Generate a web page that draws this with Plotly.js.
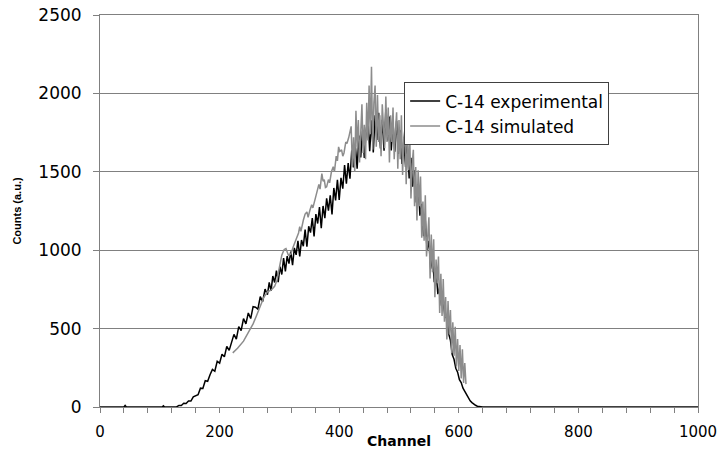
<!DOCTYPE html>
<html>
<head>
<meta charset="utf-8">
<script src="https://cdn.plot.ly/plotly-3.0.1.min.js"></script>
<style>html,body{margin:0;padding:0;background:#fff}#chart{width:722px;height:449px}</style>
</head>
<body>
<div id="chart"></div>
<script>
// Experimental spectrum (channel, counts)
const expChannel = [0,40,42,44,104,106,108,118,
120,124,128,132,136,140,144,148,152,156,160,164,168,172,176,180,184,188,192,196,
200,204,208,212,216,220,224,228,232,236,240,244,248,252,256,260,264,268,272,276,280,
283,286,289,292,295,298,301,304,307,310,313,316,319,322,325,328,331,334,337,340,
343,346,349,352,355,358,361,364,367,370,373,376,379,382,385,388,391,394,397,400,
403,406,409,412,415,418,421,424,427,430,433,436,439,442,445,448,451,454,457,460,
463,466,469,472,475,478,481,484,487,490,493,496,499,502,505,508,511,514,517,520,
523,526,529,532,535,538,541,544,547,550,553,556,559,562,565,568,571,574,577,580,
583,586,589,592,595,598,601,604,607,610,613,616,619,622,625,628,631,634,637,640,1000];
const expCounts = [0,0,10,0,0,8,0,0,
0,2,0,10,10,24,22,38,38,65,74,78,120,118,168,164,206,240,228,292,
280,336,320,387,361,415,463,433,512,488,564,530,600,564,640,636,624,704,672,752,716,
795,740,835,794,870,796,895,845,950,865,962,914,991,905,1015,970,1060,960,1065,1025,
1131,1022,1153,1112,1205,1088,1230,1170,1275,1140,1282,1204,1331,1252,1350,1228,1397,1318,1449,1320,
1461,1392,1543,1424,1555,1456,1637,1528,1669,1520,1731,1592,1763,1588,1760,1842,1632,1828,1624,1860,
1703,1876,1649,1832,1635,1898,1698,1852,1636,1810,1628,1826,1614,1764,1550,1696,1531,1674,1457,1590,
1405,1510,1305,1424,1220,1296,1090,1190,1000,1060,882,954,796,862,720,768,646,674,572,580,
468,426,334,304,247,222,174,156,120,98,73,61,39,28,17,11,5,2,0,0,0];

// Simulated spectrum (channel, counts)
const simChannel = [222,230,240,250,256,262,268,274,280,286,292,296,300,304,308,311,315,319,323,329,
332,334,336,340,343,346,348,351,354,356,360,363,366,368,371,373,375,377,379,382,
384,387,390,392,395,397,399,401,404,406,408,411,413,416,418,
420,422,424,426,428,430,432,434,436,438,440,442,444,446,448,450,452,454,456,458,
460,462,464,466,468,470,472,474,476,478,480,482,484,486,488,490,492,494,496,498,
500,502,504,506,508,510,512,514,516,518,520,522,524,526,528,530,532,534,536,538,
540,542,544,546,548,550,552,554,556,558,560,562,564,566,568,570,572,574,576,578,
580,582,584,586,588,590,592,594,596,598,600,602,604,606,608,610,612];
const simCounts = [345,375,420,490,530,585,638,700,735,745,770,809,890,968,1005,1011,968,975,1021,1085,
1110,1150,1120,1191,1230,1244,1210,1255,1290,1270,1330,1380,1420,1390,1489,1440,1450,1400,1404,1450,
1430,1500,1532,1500,1600,1570,1659,1630,1640,1600,1620,1690,1680,1720,1766,
1790,1530,1720,1500,1890,1660,1830,1560,1830,1930,1620,1800,1580,1940,1700,2050,1740,2170,1640,1940,
2050,1660,1990,1690,1860,1600,1930,1800,1650,1980,1690,1910,1560,1860,1690,1910,1580,1760,1880,1520,
1830,1580,1860,1480,1720,1770,1420,1680,1510,1740,1330,1550,1640,1280,1530,1190,1510,1280,1470,1080,
1310,1060,1350,960,1140,1210,820,1100,860,1070,700,940,790,960,600,850,580,816,544,702,
430,676,462,618,344,540,326,512,258,434,230,396,182,368,154,280,146];

const seriesNames = ["C-14 experimental", "C-14 simulated"];
const xTickVals = [0,40,80,120,160,200,240,280,320,360,400,440,480,520,560,600,640,680,720,760,800,840,880,920,960,1000];
const xTickText = ["0","","","","","200","","","","","400","","","","","600","","","","","800","","","","","1000"];
const yTickVals = [0,500,1000,1500,2000,2500];

const traces = [
  {x: expChannel, y: expCounts, type: "scatter", mode: "lines", name: seriesNames[0],
   line: {color: "#000000", width: 1.5}},
  {x: simChannel, y: simCounts, type: "scatter", mode: "lines", name: seriesNames[1],
   line: {color: "#8c8c8c", width: 1.5}}
];

const layout = {
  width: 722, height: 449,
  margin: {l: 100, r: 24, t: 15, b: 42},
  paper_bgcolor: "#ffffff", plot_bgcolor: "#ffffff",
  showlegend: true,
  legend: {x: 0.5086, y: 0.828, xanchor: "left", yanchor: "top",
    bgcolor: "#ffffff", bordercolor: "#404040", borderwidth: 1,
    font: {family: "DejaVu Sans", size: 17, color: "#000"}},
  xaxis: {range: [0, 1000], tickmode: "array", tickvals: xTickVals, ticktext: xTickText,
    ticks: "outside", ticklen: 5, tickcolor: "#808080", tickwidth: 1,
    showline: true, linecolor: "#808080", linewidth: 1, mirror: true,
    showgrid: false, zeroline: false, ticklabelstandoff: 6,
    tickfont: {family: "DejaVu Sans", size: 15, color: "#000"},
    title: {text: "<b>Channel</b>", standoff: 0, font: {family: "DejaVu Sans", size: 14, color: "#000"}}},
  yaxis: {range: [0, 2500], tickmode: "array", tickvals: yTickVals,
    ticks: "outside", ticklen: 6, tickcolor: "#808080", tickwidth: 1,
    showline: true, linecolor: "#808080", linewidth: 1, mirror: true,
    showgrid: true, gridcolor: "#808080", gridwidth: 1, zeroline: false, ticklabelstandoff: 8,
    tickfont: {family: "DejaVu Sans", size: 17, color: "#000"},
    title: {text: "<b>Counts (a.u.)</b>", standoff: 14, font: {family: "Liberation Sans", size: 11, color: "#000"}}}
};

Plotly.newPlot("chart", traces, layout, {displayModeBar: false, staticPlot: true});
</script>
</body>
</html>
